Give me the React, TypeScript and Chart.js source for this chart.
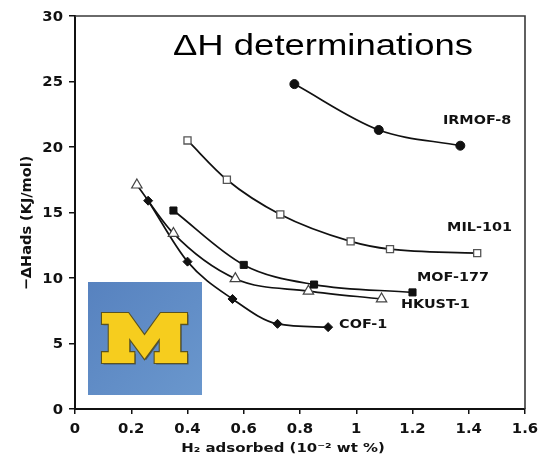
import React, { useEffect, useRef } from "react";
import { Chart, registerables } from "chart.js";

Chart.register(...registerables);

// ---- Data ----
const IRMOF8_X = [0.78, 1.08, 1.37];
const IRMOF8_Y = [24.8, 21.3, 20.1];

const MIL101_X = [0.4, 0.54, 0.73, 0.98, 1.12, 1.43];
const MIL101_Y = [20.5, 17.5, 14.85, 12.8, 12.2, 11.9];

const MOF177_X = [0.35, 0.6, 0.85, 1.2];
const MOF177_Y = [15.15, 11.0, 9.5, 8.9];

const HKUST1_X = [0.22, 0.35, 0.57, 0.83, 1.09];
const HKUST1_Y = [17.1, 13.4, 9.95, 9.0, 8.4];

const COF1_X = [0.26, 0.4, 0.56, 0.72, 0.9];
const COF1_Y = [15.9, 11.25, 8.4, 6.5, 6.25];

const SERIES_NAMES = ["IRMOF-8", "MIL-101", "MOF-177", "HKUST-1", "COF-1"];
// label anchor points in data units (left edge, vertical middle)
const LABEL_X = [1.308, 1.323, 1.216, 1.159, 0.939];
const LABEL_Y = [22.0, 13.8, 10.0, 7.94, 6.41];

const X_TICKS = [0, 0.2, 0.4, 0.6, 0.8, 1, 1.2, 1.4, 1.6];
const X_TICK_LABELS = ["0", "0.2", "0.4", "0.6", "0.8", "1", "1.2", "1.4", "1.6"];
const Y_TICKS = [0, 5, 10, 15, 20, 25, 30];
const Y_TICK_LABELS = ["0", "5", "10", "15", "20", "25", "30"];

const TITLE = "\u0394H determinations";
const X_TITLE = "H\u2082 adsorbed (10\u207B\u00B2 wt %)";
const Y_TITLE = "\u2212\u0394Hads (KJ/mol)";

// block "M" outline of the logo, in a 100 x 60 unit box
const M_SHAPE = [
  [0, 0], [31, 0], [50, 27], [69, 0], [100, 0], [100, 13], [92, 13], [92, 47], [100, 47],
  [100, 60], [62, 60], [62, 47], [68, 47], [68, 30], [50, 55], [32, 30], [32, 47], [38, 47],
  [38, 60], [0, 60], [0, 47], [8, 47], [8, 13], [0, 13],
];

const pts = (xs: number[], ys: number[]) => xs.map((x, i) => ({ x, y: ys[i] }));

function stretchText(
  ctx: CanvasRenderingContext2D,
  text: string,
  x: number,
  y: number,
  font: string,
  sx: number,
  align: CanvasTextAlign,
  baseline: CanvasTextBaseline,
  color: string
) {
  ctx.save();
  ctx.font = font;
  ctx.fillStyle = color;
  ctx.textAlign = align;
  ctx.textBaseline = baseline;
  ctx.translate(x, y);
  ctx.scale(sx, 1);
  ctx.fillText(text, 0, 0);
  ctx.restore();
}

const decorPlugin = {
  id: "decor",
  afterDraw(chart: any) {
    const ctx: CanvasRenderingContext2D = chart.ctx;
    const xs = chart.scales.x;
    const ys = chart.scales.y;
    const area = chart.chartArea;

    // frame top/right
    ctx.save();
    ctx.strokeStyle = "#3a3a3a";
    ctx.lineWidth = 1.6;
    ctx.beginPath();
    ctx.moveTo(area.left, area.top);
    ctx.lineTo(area.right, area.top);
    ctx.lineTo(area.right, area.bottom);
    ctx.stroke();
    ctx.restore();

    const tickFont = 'bold 13.5px "DejaVu Sans"';
    // y tick labels
    Y_TICKS.forEach((v, i) => {
      stretchText(ctx, Y_TICK_LABELS[i], 63, ys.getPixelForValue(v) + 1, tickFont, 1.1, "right", "middle", "#111");
    });
    // x tick labels
    X_TICKS.forEach((v, i) => {
      stretchText(ctx, X_TICK_LABELS[i], xs.getPixelForValue(v), 429, tickFont, 1.1, "center", "middle", "#111");
    });

    // axis titles
    stretchText(ctx, X_TITLE, 283, 449, 'bold 13px "DejaVu Sans"', 1.15, "center", "middle", "#111");
    ctx.save();
    ctx.translate(27, 223);
    ctx.rotate(-Math.PI / 2);
    ctx.font = 'bold 14.5px "DejaVu Sans"';
    ctx.fillStyle = "#111";
    ctx.textAlign = "center";
    ctx.textBaseline = "middle";
    ctx.fillText(Y_TITLE, 0, 0);
    ctx.restore();

    // title
    ctx.save();
    ctx.font = '30px "Liberation Sans"';
    const w = ctx.measureText(TITLE).width;
    ctx.restore();
    stretchText(ctx, TITLE, 173, 55, '30px "Liberation Sans"', 300 / w, "left", "alphabetic", "#000");

    // series labels
    SERIES_NAMES.forEach((name, i) => {
      stretchText(
        ctx,
        name,
        xs.getPixelForValue(LABEL_X[i]),
        ys.getPixelForValue(LABEL_Y[i]),
        'bold 12px "DejaVu Sans"',
        1.2,
        "left",
        "middle",
        "#111"
      );
    });

    // logo
    const lx = 88, ly = 282, lw = 114, lh = 113;
    ctx.save();
    const g = ctx.createLinearGradient(lx, ly, lx + lw, ly + lh);
    g.addColorStop(0, "#5782bf");
    g.addColorStop(1, "#6a97cd");
    ctx.fillStyle = g;
    ctx.fillRect(lx, ly, lw, lh);
    const mx = 102, my = 313, mw = 85, mh = 50;
    const path = () => {
      ctx.beginPath();
      M_SHAPE.forEach(([px, py], i) => {
        const X = mx + (px / 100) * mw;
        const Y = my + (py / 60) * mh;
        if (i === 0) ctx.moveTo(X, Y);
        else ctx.lineTo(X, Y);
      });
      ctx.closePath();
    };
    ctx.save();
    ctx.translate(1.5, 1.5);
    path();
    ctx.fillStyle = "rgba(40,45,40,0.55)";
    ctx.fill();
    ctx.restore();
    path();
    ctx.lineJoin = "miter";
    ctx.strokeStyle = "#5a5320";
    ctx.lineWidth = 2.2;
    ctx.stroke();
    ctx.fillStyle = "#f6cd1e";
    ctx.fill();
    ctx.restore();
  },
};

export default function App() {
  const ref = useRef<HTMLCanvasElement | null>(null);

  useEffect(() => {
    if (!ref.current) return;
    const line = {
      showLine: true,
      borderColor: "#111",
      borderWidth: 1.7,
      cubicInterpolationMode: "monotone" as const,
      pointBorderColor: "#111",
      pointBorderWidth: 1,
    };
    const chart = new Chart(ref.current, {
      type: "scatter",
      data: {
        datasets: [
          { ...line, label: SERIES_NAMES[0], data: pts(IRMOF8_X, IRMOF8_Y), pointStyle: "circle", pointRadius: 4.5, pointBackgroundColor: "#111" },
          { ...line, label: SERIES_NAMES[1], data: pts(MIL101_X, MIL101_Y), pointStyle: "rect", pointRadius: 5, pointBackgroundColor: "#fff", pointBorderColor: "#555", pointBorderWidth: 1.3 },
          { ...line, label: SERIES_NAMES[2], data: pts(MOF177_X, MOF177_Y), pointStyle: "rect", pointRadius: 5, pointBackgroundColor: "#111" },
          { ...line, label: SERIES_NAMES[3], data: pts(HKUST1_X, HKUST1_Y), pointStyle: "triangle", pointRadius: 6, pointBackgroundColor: "#fff", pointBorderColor: "#444", pointBorderWidth: 1.2 },
          { ...line, label: SERIES_NAMES[4], data: pts(COF1_X, COF1_Y), pointStyle: "rectRot", pointRadius: 4.5, pointBackgroundColor: "#111" },
        ] as any,
      },
      options: {
        responsive: false,
        devicePixelRatio: 1,
        animation: false,
        layout: { padding: { left: 0, top: 16, right: 14, bottom: 0 } },
        plugins: { legend: { display: false }, tooltip: { enabled: false } },
        scales: {
          x: {
            type: "linear",
            min: 0,
            max: 1.6,
            ticks: { display: false, stepSize: 0.2 },
            grid: { display: true, drawOnChartArea: false, drawTicks: true, tickLength: 5, color: "#111", lineWidth: 1.5 },
            border: { display: true, color: "#111", width: 2 },
            afterFit: (s: any) => { s.height = 53; },
          },
          y: {
            type: "linear",
            min: 0,
            max: 30,
            ticks: { display: false, stepSize: 5 },
            grid: { display: true, drawOnChartArea: false, drawTicks: true, tickLength: 6, color: "#111", lineWidth: 1.5 },
            border: { display: true, color: "#111", width: 2 },
            afterFit: (s: any) => { s.width = 75; },
          },
        },
      } as any,
      plugins: [decorPlugin],
    });
    return () => chart.destroy();
  }, []);

  return (
    <div style={{ position: "fixed", left: 0, top: 0, width: 539, height: 462, background: "#fff" }}>
      <canvas ref={ref} width={539} height={462} style={{ display: "block" }} />
    </div>
  );
}
